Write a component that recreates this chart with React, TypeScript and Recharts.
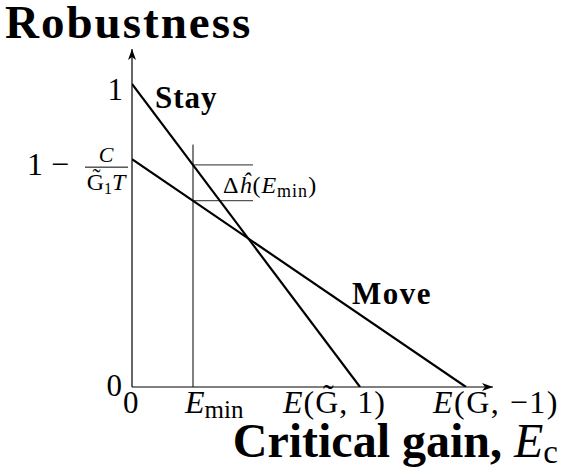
import React from 'react'
import { ComposedChart, Line, XAxis, YAxis, ReferenceLine, ReferenceDot } from 'recharts'

// critical gain (x) and robustness (y) for the two strategies
const stayGain = [0, 2.28]
const stayRobust = [1, 0]
const moveGain = [0, 3.34]
const moveRobust = [0.752, 0]

const eMin = 0.61
const stayAtEmin = 0.733
const moveAtEmin = 0.615
const eMinLineTop = 0.8
const bracketEnd = 1.21

const xTicks = [0, 0.61, 2.28, 3.34]
const yTicks = [0, 0.752, 1]
const xMax = 3.61
const yMax = 1.1155

const stayData = stayGain.map((e, i) => ({ e, r: stayRobust[i] }))
const moveData = moveGain.map((e, i) => ({ e, r: moveRobust[i] }))

const FONT = '"Liberation Serif", "Times New Roman", serif'
const G_TILDE = 'G\u0303'

function XTick(props: any) {
  const { x, payload } = props
  const y = 387
  const v = payload.value
  const base = y + 26
  if (v === 0) return <text x={x - 9} y={base} fontSize={31} fontFamily={FONT}>0</text>
  if (v === eMin)
    return (
      <text x={x - 8} y={base} fontSize={32} fontFamily={FONT}>
        <tspan fontStyle="italic">E</tspan>
        <tspan fontSize={25} dy={5}>min</tspan>
      </text>
    )
  if (v === xTicks[2])
    return (
      <text x={x - 77} y={base} fontSize={32} fontFamily={FONT} letterSpacing={1}>
        <tspan fontStyle="italic">E</tspan>({G_TILDE}, 1)
      </text>
    )
  return (
    <text x={x - 33} y={base} fontSize={32} fontFamily={FONT} letterSpacing={1.5}>
      <tspan fontStyle="italic">E</tspan>(G, −1)
    </text>
  )
}

function YTick(props: any) {
  const { y, payload } = props
  const x = 132
  const v = payload.value
  if (v === 1) return <text x={x - 9} y={y + 16} textAnchor="end" fontSize={31} fontFamily={FONT}>1</text>
  if (v === 0) return <text x={x - 10} y={y + 9} textAnchor="end" fontSize={31} fontFamily={FONT}>0</text>
  return (
    <g fontFamily={FONT}>
      <text x={x - 105} y={y + 16} fontSize={32}>1 −</text>
      <text x={x - 26} y={y + 3} textAnchor="middle" fontSize={22} fontStyle="italic">C</text>
      <line x1={x - 47} x2={x - 4} y1={y + 8} y2={y + 8} stroke="#000" strokeWidth={1} />
      <text x={x - 26} y={y + 31} textAnchor="middle" fontSize={24}>
        {G_TILDE}<tspan fontSize={16} dy={4}>1</tspan><tspan fontStyle="italic" dy={-4}>T</tspan>
      </text>
    </g>
  )
}

const arrowUp = ({ cx, cy }: any) => (
  <path d={`M${cx},${cy} L${cx - 4},${cy + 11} L${cx},${cy + 8} L${cx + 4},${cy + 11} Z`} fill="#000" />
)
const arrowRight = ({ cx, cy }: any) => (
  <path d={`M${cx},${cy} L${cx - 11},${cy - 4} L${cx - 8},${cy} L${cx - 11},${cy + 4} Z`} fill="#000" />
)

export default function App() {
  return (
    <div style={{ position: 'fixed', left: 0, top: 0, width: 563, height: 474, background: '#fff' }}>
      <ComposedChart width={563} height={474} margin={{ top: 49, right: 70, bottom: 86, left: 131 }}>
        <XAxis type="number" dataKey="e" domain={[0, xMax]} ticks={xTicks} allowDataOverflow
          height={1} tickSize={0} tickMargin={0} tickLine={false} axisLine={{ stroke: '#000', strokeWidth: 1.2 }}
          tick={(p: any) => <XTick {...p} />} interval={0} />
        <YAxis type="number" domain={[0, yMax]} ticks={yTicks} allowDataOverflow
          width={1} tickSize={0} tickMargin={0} tickLine={false} axisLine={{ stroke: '#000', strokeWidth: 1.2 }}
          tick={(p: any) => <YTick {...p} />} interval={0} />
        <ReferenceLine segment={[{ x: eMin, y: 0 }, { x: eMin, y: eMinLineTop }]} stroke="#000" strokeWidth={1} ifOverflow="visible" />
        <ReferenceLine segment={[{ x: eMin, y: stayAtEmin }, { x: bracketEnd, y: stayAtEmin }]} stroke="#555" strokeWidth={1.2} ifOverflow="visible" />
        <ReferenceLine segment={[{ x: eMin, y: moveAtEmin }, { x: bracketEnd, y: moveAtEmin }]} stroke="#555" strokeWidth={1.2} ifOverflow="visible" />
        <Line data={stayData} dataKey="r" stroke="#000" strokeWidth={2.2} dot={false} isAnimationActive={false} />
        <Line data={moveData} dataKey="r" stroke="#000" strokeWidth={2.2} dot={false} isAnimationActive={false} />
        <ReferenceDot x={0} y={yMax} r={0} shape={arrowUp} ifOverflow="visible" />
        <ReferenceDot x={xMax} y={0} r={0} shape={arrowRight} ifOverflow="visible" />
      </ComposedChart>
      <svg width={563} height={474} style={{ position: 'absolute', left: 0, top: 0, pointerEvents: 'none' }} fontFamily={FONT}>
        <text x={5} y={38} fontSize={47} fontWeight="bold" letterSpacing={2}>Robustness</text>
        <text x={558} y={457} textAnchor="end" fontSize={48}>
          <tspan fontWeight="bold">Critical gain, </tspan>
          <tspan fontStyle="italic">E</tspan>
          <tspan fontSize={33} dy={6}>c</tspan>
        </text>
        <text x={155} y={108} fontSize={31} fontWeight="bold" letterSpacing={1}>Stay</text>
        <text x={352} y={304} fontSize={31} fontWeight="bold" letterSpacing={1.5}>Move</text>
        <text x={223} y={193} fontSize={24} letterSpacing={1}>
          Δ<tspan fontStyle="italic">{'h\u0302'}</tspan>(<tspan fontStyle="italic">E</tspan>
          <tspan fontSize={18} dy={4}>min</tspan><tspan dy={-4}>)</tspan>
        </text>
      </svg>
    </div>
  )
}
